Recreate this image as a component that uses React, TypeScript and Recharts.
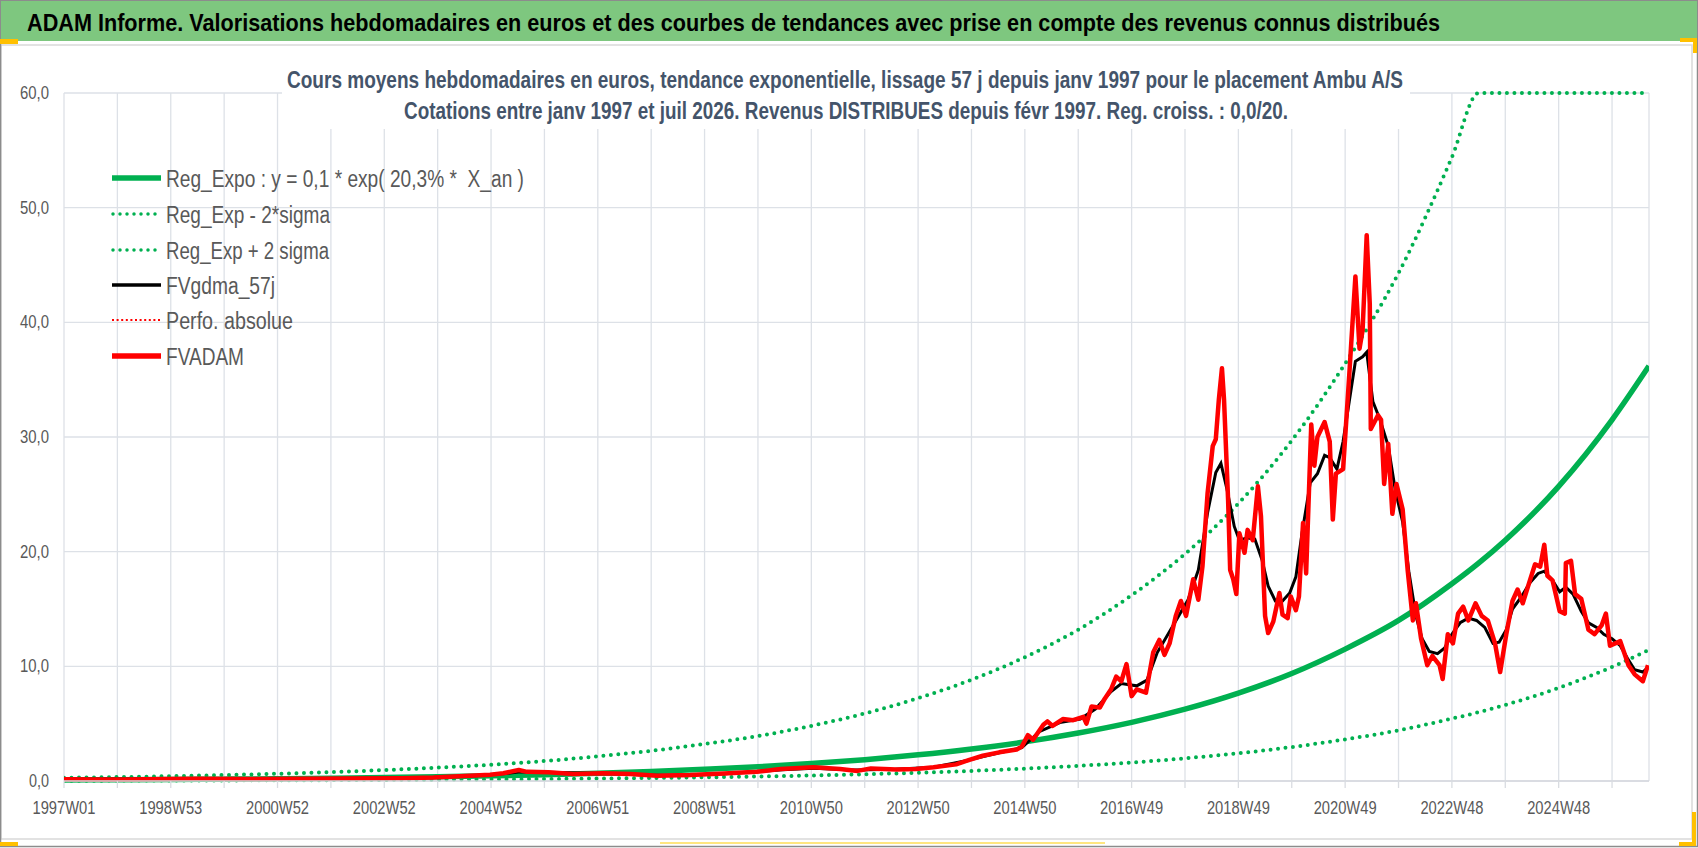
import React from 'react';
import { LineChart, Line, XAxis, YAxis, CartesianGrid } from 'recharts';

// ---- Data (x = week index from 1997W01) ----
const trendWeeks = [0, 52, 104, 156, 208, 260, 312, 364, 416, 468, 520, 572, 624, 676, 728, 780, 832, 884, 936, 988, 1040, 1092, 1144, 1196, 1248, 1300, 1352, 1378, 1404, 1456, 1508, 1544];
const regExpo = [0.089, 0.109, 0.133, 0.163, 0.2, 0.245, 0.3, 0.37, 0.45, 0.55, 0.68, 0.83, 1.02, 1.24, 1.52, 1.86, 2.28, 2.79, 3.41, 4.18, 5.11, 6.26, 7.66, 9.37, 11.5, 14.0, 17.2, 19.0, 21.0, 25.7, 31.5, 36.2];
const regLow = [0.028, 0.034, 0.042, 0.052, 0.063, 0.077, 0.095, 0.117, 0.142, 0.174, 0.215, 0.262, 0.32, 0.39, 0.48, 0.59, 0.72, 0.88, 1.08, 1.32, 1.61, 1.98, 2.42, 2.96, 3.63, 4.42, 5.44, 6.0, 6.64, 8.12, 9.95, 11.44];
const regHigh = [0.28, 0.34, 0.42, 0.52, 0.63, 0.78, 0.95, 1.17, 1.42, 1.74, 2.15, 2.63, 3.23, 3.92, 4.81, 5.89, 7.22, 8.83, 10.8, 13.2, 16.2, 19.8, 24.2, 29.7, 36.4, 44.3, 54.4, 60, 60, 60, 60, 60];

const adamWeeks = [0, 30, 60, 100, 130, 180, 230, 280, 330, 360, 380, 400, 415, 428, 443, 451, 472, 496, 525, 552, 578, 610, 643, 675, 698, 730, 756, 773, 786, 811, 830, 847, 869, 882, 895, 911, 928, 933, 939, 944, 954, 958, 963, 973, 983, 993, 996, 1001, 1009, 1014, 1020, 1025, 1030, 1035, 1040, 1045, 1054, 1061, 1067, 1072, 1077, 1083, 1088, 1093, 1100, 1105, 1109, 1114, 1119, 1122, 1125, 1128, 1130, 1134, 1136, 1139, 1142, 1145, 1150, 1153, 1158, 1163, 1166, 1170, 1173, 1178, 1184, 1187, 1192, 1195, 1200, 1203, 1207, 1210, 1215, 1218, 1221, 1228, 1233, 1236, 1239, 1246, 1252, 1258, 1262, 1265, 1269, 1272, 1273, 1280, 1283, 1286, 1290, 1294, 1298, 1304, 1309, 1314, 1317, 1322, 1328, 1333, 1340, 1343, 1348, 1353, 1358, 1363, 1368, 1375, 1381, 1387, 1394, 1399, 1405, 1411, 1416, 1421, 1428, 1433, 1438, 1442, 1445, 1450, 1457, 1462, 1463, 1468, 1472, 1478, 1485, 1491, 1498, 1502, 1506, 1516, 1524, 1530, 1538, 1543];
const adamValues = [0.15, 0.14, 0.13, 0.18, 0.2, 0.17, 0.2, 0.22, 0.25, 0.3, 0.4, 0.48, 0.55, 0.67, 0.96, 0.8, 0.76, 0.62, 0.68, 0.62, 0.46, 0.52, 0.66, 0.8, 1.05, 1.2, 1.05, 0.88, 1.1, 1.0, 1.05, 1.2, 1.45, 1.85, 2.2, 2.5, 2.75, 3.0, 4.0, 3.6, 4.9, 5.2, 4.8, 5.4, 5.3, 5.6, 5.0, 6.5, 6.4, 7.2, 8.0, 9.1, 8.7, 10.2, 7.4, 8.0, 7.7, 11.2, 12.3, 11.0, 12.0, 14.4, 15.7, 14.4, 17.6, 15.8, 18.7, 25.1, 29.2, 29.8, 33.3, 36.0, 33.3, 24.5, 18.4, 17.6, 16.3, 21.6, 19.9, 21.9, 21.0, 25.7, 23.1, 14.4, 12.9, 13.9, 16.4, 14.5, 14.2, 16.1, 14.9, 16.1, 22.5, 18.1, 31.1, 27.5, 30.0, 31.3, 29.6, 22.8, 26.8, 27.2, 35.4, 44.0, 37.7, 39.3, 47.6, 41.6, 30.7, 31.9, 31.5, 25.9, 29.4, 23.3, 25.9, 23.7, 18.3, 14.0, 15.5, 12.4, 10.1, 10.9, 10.1, 8.9, 12.8, 12.0, 14.6, 15.2, 14.0, 15.5, 14.4, 14.0, 12.0, 9.5, 12.8, 15.7, 16.7, 15.5, 17.5, 18.9, 18.7, 20.6, 17.9, 17.5, 14.8, 14.6, 19.0, 19.2, 16.3, 15.9, 13.2, 12.8, 13.6, 14.6, 11.8, 12.2, 10.1, 9.3, 8.7, 10.1];

const gdmaWeeks = [0, 100, 200, 300, 360, 400, 430, 445, 470, 520, 578, 640, 700, 730, 770, 810, 847, 880, 911, 933, 950, 970, 990, 1005, 1020, 1030, 1045, 1055, 1065, 1080, 1095, 1105, 1114, 1122, 1127, 1133, 1140, 1145, 1153, 1160, 1167, 1173, 1180, 1187, 1194, 1200, 1206, 1214, 1221, 1228, 1233, 1240, 1246, 1252, 1258, 1265, 1269, 1275, 1282, 1290, 1297, 1304, 1310, 1317, 1323, 1330, 1338, 1345, 1352, 1360, 1368, 1376, 1384, 1392, 1398, 1405, 1411, 1420, 1428, 1436, 1442, 1450, 1457, 1463, 1470, 1478, 1485, 1493, 1500, 1508, 1516, 1523, 1530, 1538, 1543];
const gdmaValues = [0.15, 0.17, 0.19, 0.23, 0.3, 0.45, 0.65, 0.8, 0.76, 0.65, 0.5, 0.62, 0.98, 1.12, 0.95, 1.02, 1.2, 1.8, 2.45, 2.9, 4.3, 5.1, 5.4, 6.3, 7.8, 8.5, 8.3, 8.8, 11.2, 13.5, 15.8, 18.4, 23.4, 26.9, 27.7, 25.4, 22.2, 21.0, 21.2, 21.1, 19.3, 17.0, 15.7, 15.7, 16.4, 17.8, 21.6, 26.0, 26.8, 28.4, 28.2, 27.2, 29.6, 33.1, 36.6, 37.0, 37.4, 33.1, 31.5, 29.2, 25.3, 22.6, 18.3, 14.4, 12.4, 11.3, 11.1, 11.6, 12.8, 13.8, 14.2, 14.0, 13.4, 12.0, 12.1, 13.2, 15.0, 16.1, 17.3, 18.1, 18.3, 17.5, 16.5, 16.9, 16.3, 14.8, 13.8, 13.4, 12.8, 12.4, 11.8, 10.7, 9.7, 9.5, 9.9];

const xTickLabels = ['1997W01', '1998W53', '2000W52', '2002W52', '2004W52', '2006W51', '2008W51', '2010W50', '2012W50', '2014W50', '2016W49', '2018W49', '2020W49', '2022W48', '2024W48'];
const yTicks = [0, 10, 20, 30, 40, 50, 60];
const yTickLabels = ['0,0', '10,0', '20,0', '30,0', '40,0', '50,0', '60,0'];
const gridWeeks = [0, 52, 104, 156, 208, 260, 312, 364, 416, 468, 520, 572, 624, 676, 728, 780, 832, 884, 936, 988, 1040, 1092, 1144, 1196, 1248, 1300, 1352, 1404, 1456, 1508];

const mainTitle = 'ADAM Informe. Valorisations hebdomadaires en euros et des courbes de tendances avec prise en compte des revenus connus distribués';
const chartTitle1 = 'Cours moyens hebdomadaires en euros, tendance exponentielle, lissage 57 j depuis janv 1997 pour le placement Ambu A/S';
const chartTitle2 = 'Cotations entre janv 1997 et juil 2026. Revenus DISTRIBUES depuis févr 1997. Reg. croiss. : 0,0/20.';
const legendNames = ['Reg_Expo : y = 0,1 * exp( 20,3% *  X_an )', 'Reg_Exp - 2*sigma', 'Reg_Exp + 2 sigma', 'FVgdma_57j', 'Perfo. absolue', 'FVADAM'];

const trendData = trendWeeks.map((w, i) => ({ w, main: regExpo[i], low: regLow[i], high: regHigh[i] }));
const adamData = adamWeeks.map((w, i) => ({ w, v: adamValues[i] }));
const gdmaData = gdmaWeeks.map((w, i) => ({ w, v: gdmaValues[i] }));

const FONT = '"Liberation Sans Narrow", "Liberation Sans", Arial, sans-serif';
const GREEN = '#00B050';

const XTick = (props: any) => {
  const { x, y, payload } = props;
  const v = payload.value;
  if (v % 104 !== 0) return <g />;
  const label = xTickLabels[v / 104];
  return (
    <text x={x} y={y + 24} textAnchor="middle" fontSize={18} fill="#595959" fontFamily={FONT} textLength={63} lengthAdjust="spacingAndGlyphs">
      {label}
    </text>
  );
};

const YTick = (props: any) => {
  const { x, y, payload } = props;
  const idx = yTicks.indexOf(payload.value);
  const label = yTickLabels[idx];
  return (
    <text x={x} y={y + 6} textAnchor="end" fontSize={18} fill="#595959" fontFamily={FONT} textLength={label.length === 3 ? 20 : 29} lengthAdjust="spacingAndGlyphs">
      {label}
    </text>
  );
};

const legendWidths = [358, 164, 163, 109, 127, 78];
const legendRowY = [178, 214, 250, 285, 320, 356];

export default function App() {
  return (
    <div style={{ position: 'absolute', left: 0, top: 0, width: 1698, height: 848, background: '#fff', overflow: 'hidden' }}>
      <div style={{ position: 'absolute', left: 0, top: 0 }}>
        <LineChart width={1698} height={848} margin={{ top: 93, right: 49, bottom: 27, left: 8 }}>
          <CartesianGrid stroke="#DDE1E7" strokeWidth={1.3} />
          <XAxis
            type="number"
            dataKey="w"
            domain={[0, 1544]}
            ticks={gridWeeks}
            interval={0}
            allowDataOverflow
            height={40}
            tickSize={7}
            tickLine={{ stroke: '#D9DCE1', strokeWidth: 1.3 }}
            axisLine={{ stroke: '#D6D9DE', strokeWidth: 1.5 }}
            tick={<XTick />}
          />
          <YAxis
            type="number"
            domain={[0, 60]}
            ticks={yTicks}
            interval={0}
            width={56}
            axisLine={false}
            tickLine={false}
            tickSize={0}
            tickMargin={15}
            tick={<YTick />}
          />
          <Line data={trendData} dataKey="main" type="monotone" stroke={GREEN} strokeWidth={5.5} dot={false} isAnimationActive={false} />
          <Line data={trendData} dataKey="low" type="monotone" stroke={GREEN} strokeWidth={4} strokeDasharray="0 7.5" strokeLinecap="round" dot={false} isAnimationActive={false} />
          <Line data={trendData} dataKey="high" type="monotone" stroke={GREEN} strokeWidth={4} strokeDasharray="0 7.5" strokeLinecap="round" dot={false} isAnimationActive={false} />
          <Line data={gdmaData} dataKey="v" type="linear" stroke="#000000" strokeWidth={3} dot={false} isAnimationActive={false} />
          <Line data={adamData} dataKey="v" type="linear" stroke="#FF0000" strokeWidth={4.5} strokeLinejoin="round" dot={false} isAnimationActive={false} />
        </LineChart>
      </div>
      <svg width={1698} height={848} style={{ position: 'absolute', left: 0, top: 0, pointerEvents: 'none' }}>
        {/* frame */}
        <rect x={1} y={45} width={1691} height={794} fill="none" stroke="#D9D9D9" strokeWidth={1.5} />
        <rect x={0.5} y={0.5} width={1697} height={846} fill="none" stroke="#8C8C8C" strokeWidth={1.5} />
        {/* header bar */}
        <rect x={1} y={1} width={1696} height={40} fill="#7EC77F" />
        <text x={27} y={31} fontSize={24} fontWeight="bold" fill="#000" fontFamily={FONT} textLength={1413} lengthAdjust="spacingAndGlyphs">
          {mainTitle}
        </text>
        {/* selection handles */}
        <rect x={0} y={39} width={18} height={5} fill="#FFC000" />
        <rect x={1680} y={38} width={17} height={4} fill="#FFC000" />
        <rect x={1693} y={38} width={4} height={15} fill="#FFC000" />
        <rect x={1692} y={812} width={4} height={34} fill="#FFC000" />
        <rect x={1679} y={842} width={17} height={4} fill="#FFC000" />
        <rect x={0} y={842} width={18} height={4} fill="#FFC000" />
        <rect x={660} y={842} width={445} height={2} fill="#FFE680" />
        {/* chart title */}
        <rect x={282} y={62} width={1128} height={67} fill="#ffffff" />
        <text x={287} y={88} fontSize={23} fontWeight="bold" fill="#44546A" fontFamily={FONT} textLength={1116} lengthAdjust="spacingAndGlyphs">
          {chartTitle1}
        </text>
        <text x={404} y={119} fontSize={23} fontWeight="bold" fill="#44546A" fontFamily={FONT} textLength={884} lengthAdjust="spacingAndGlyphs">
          {chartTitle2}
        </text>
        {/* legend */}
        <line x1={112} x2={161} y1={legendRowY[0]} y2={legendRowY[0]} stroke={GREEN} strokeWidth={5.5} />
        <line x1={113} x2={161} y1={legendRowY[1]} y2={legendRowY[1]} stroke={GREEN} strokeWidth={3.5} strokeDasharray="0 7" strokeLinecap="round" />
        <line x1={113} x2={161} y1={legendRowY[2]} y2={legendRowY[2]} stroke={GREEN} strokeWidth={3.5} strokeDasharray="0 7" strokeLinecap="round" />
        <line x1={112} x2={161} y1={legendRowY[3]} y2={legendRowY[3]} stroke="#000" strokeWidth={3.5} />
        <line x1={112} x2={161} y1={legendRowY[4]} y2={legendRowY[4]} stroke="#FF0000" strokeWidth={2} strokeDasharray="2 2.6" />
        <line x1={112} x2={161} y1={legendRowY[5]} y2={legendRowY[5]} stroke="#FF0000" strokeWidth={5.5} />
        {legendNames.map((name, i) => (
          <text key={name} x={166} y={legendRowY[i] + 8.5} fontSize={23} fill="#595959" fontFamily={FONT} textLength={legendWidths[i]} lengthAdjust="spacingAndGlyphs" style={{ whiteSpace: 'pre' }}>
            {name}
          </text>
        ))}
      </svg>
    </div>
  );
}
